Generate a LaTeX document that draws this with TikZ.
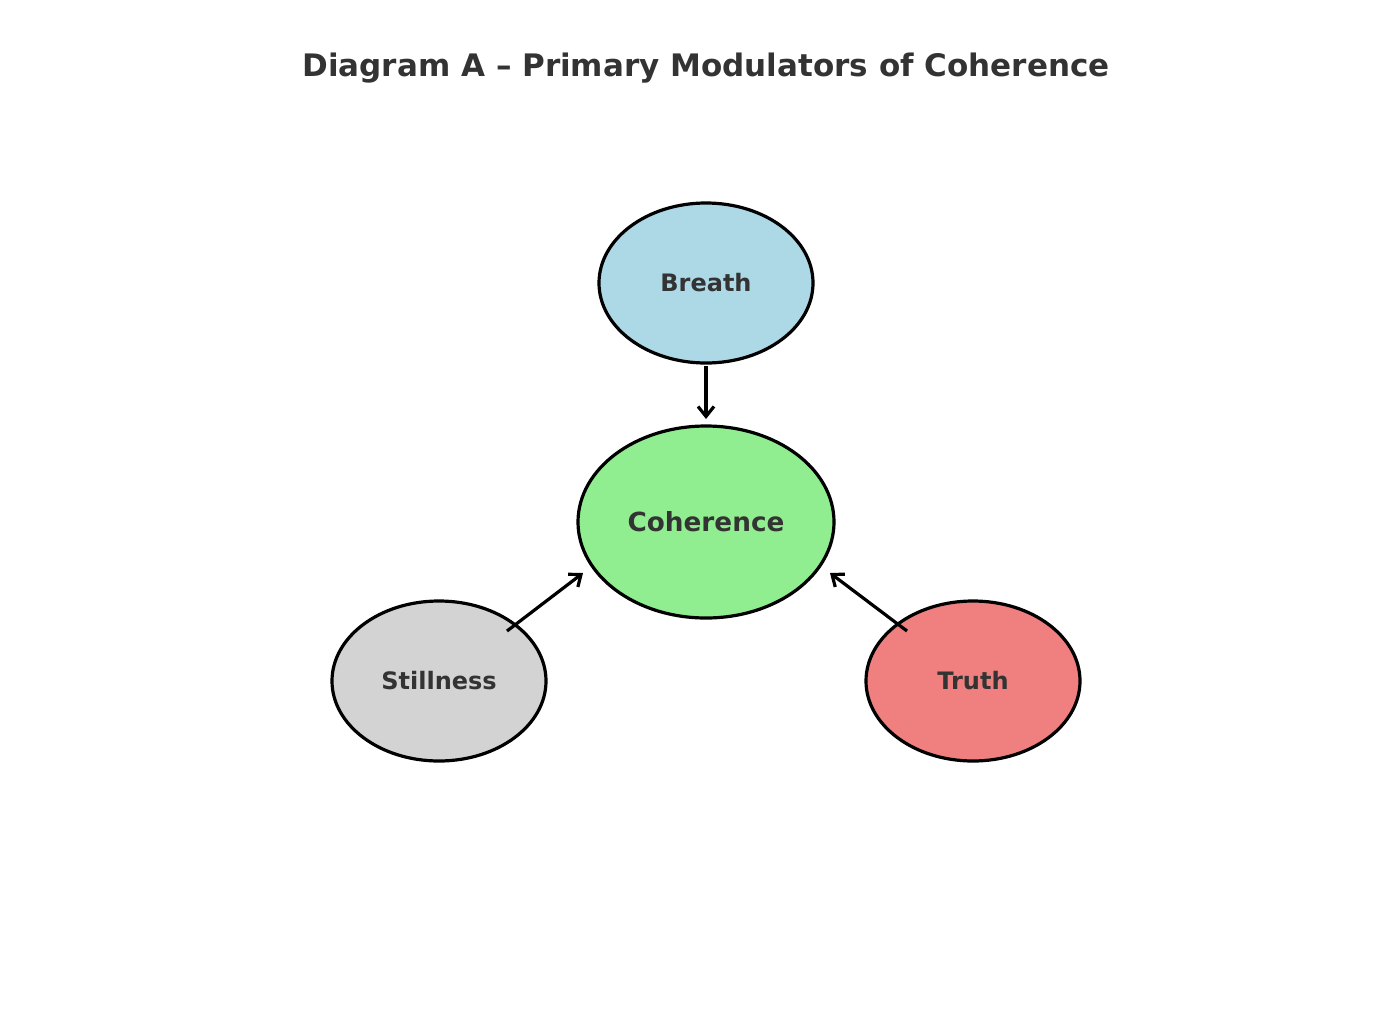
\documentclass[tikz,border=0pt]{standalone}
\usepackage{fontspec}
\setmainfont{DejaVu Sans}
\usetikzlibrary{shapes.geometric,arrows.meta}
\definecolor{txt}{HTML}{333333}
\definecolor{cblue}{RGB}{173,216,230}
\definecolor{cgreen}{RGB}{144,238,144}
\definecolor{cgray}{RGB}{211,211,211}
\definecolor{cred}{RGB}{240,128,128}
\tikzset{
  oval/.style={ellipse, draw=black, line width=3.2pt, inner sep=0pt, font=\fontsize{24}{28}\selectfont\bfseries, text=txt},
  conn/.style={line width=3.2pt, -{Straight Barb[length=10pt,width=16pt,line width=3.2pt]}}
}
\begin{document}
\begin{tikzpicture}[x=1pt,y=-1pt]
\useasboundingbox (0,0) rectangle (1379,1034);
\node[font=\fontsize{31}{36}\selectfont\bfseries, text=txt] (title) at (706,68) {Diagram A – Primary Modulators of Coherence};
\node[oval, fill=cblue, minimum width=214pt, minimum height=160pt] (breath) at (706,283) {Breath};
\node[oval, fill=cgreen, minimum width=256pt, minimum height=192pt, font=\fontsize{26.3}{30}\selectfont\bfseries] (coh) at (706,522) {Coherence};
\node[oval, fill=cgray, minimum width=214pt, minimum height=160pt] (still) at (439,681) {Stillness};
\node[oval, fill=cred, minimum width=214pt, minimum height=160pt] (truth) at (973,681) {Truth};
\coordinate (b1) at (706,366);
\coordinate (b2) at (706,419);
\coordinate (s1) at (507,631);
\coordinate (s2) at (583,573);
\coordinate (t1) at (907,631);
\coordinate (t2) at (830,573);
\draw[conn] (b1) -- (b2);
\draw[conn] (s1) -- (s2);
\draw[conn] (t1) -- (t2);
\end{tikzpicture}
\end{document}
